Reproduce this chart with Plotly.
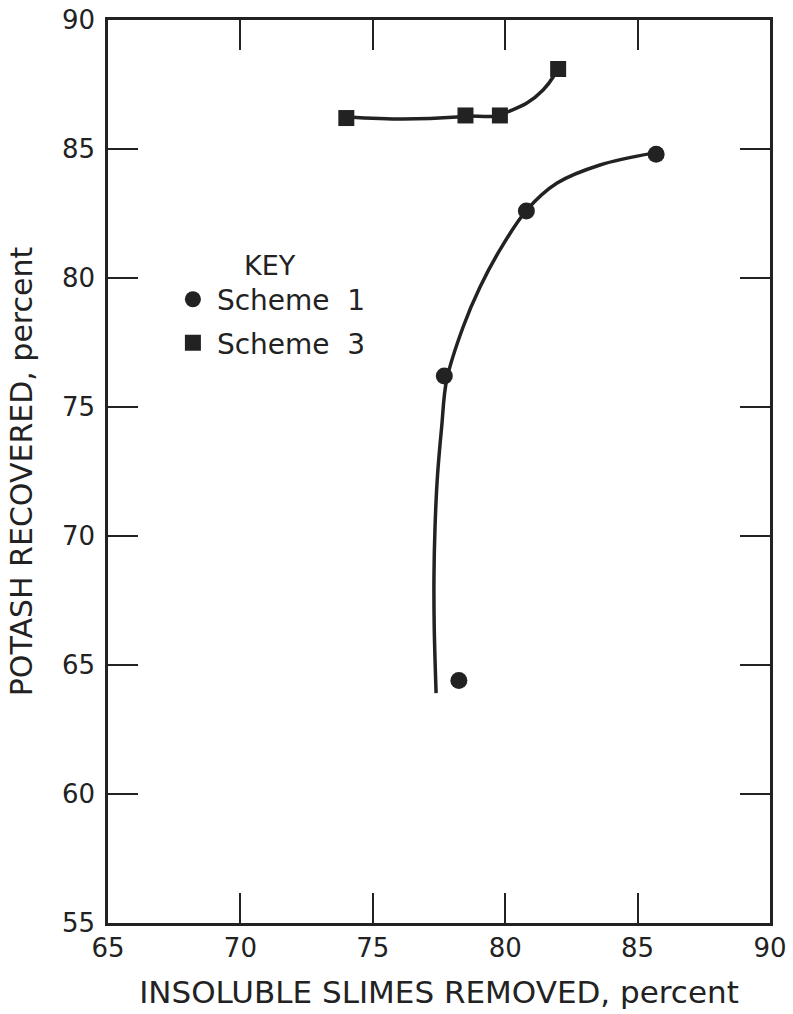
import plotly.graph_objects as go

# Data points
s1_x = [85.7, 80.8, 77.7, 78.25]
s1_y = [84.8, 82.6, 76.2, 64.4]
s3_x = [74.0, 78.5, 79.8, 82.0]
s3_y = [86.2, 86.3, 86.3, 88.1]

# Hand-drawn fitted curves
c1_x = [85.58, 83.58, 81.96, 80.82, 79.80, 79.05, 78.41, 77.79, 77.60, 77.44, 77.35, 77.31, 77.32, 77.39]
c1_y = [84.84, 84.38, 83.68, 82.64, 81.09, 79.65, 78.10, 76.05, 74.22, 72.29, 70.35, 68.41, 66.47, 63.91]
c3_x = [74.03, 76.14, 78.18, 78.52, 79.77, 80.07, 80.82, 81.43, 81.81, 81.96]
c3_y = [86.24, 86.16, 86.24, 86.28, 86.28, 86.43, 86.78, 87.29, 87.79, 88.14]

yticks = [55, 60, 65, 70, 75, 80, 85, 90]
xticks = [65, 70, 75, 80, 85, 90]

INK = "#222222"
FONT = "DejaVu Sans"

fig = go.Figure()
fig.add_trace(go.Scatter(x=c1_x, y=c1_y, mode="lines", line=dict(color=INK, width=3.5, shape="spline"),
                         showlegend=False, hoverinfo="skip"))
fig.add_trace(go.Scatter(x=c3_x, y=c3_y, mode="lines", line=dict(color=INK, width=3.5, shape="spline"),
                         showlegend=False, hoverinfo="skip"))
fig.add_trace(go.Scatter(x=s1_x, y=s1_y, mode="markers", name="Scheme\u00a0\u00a01", legendgroup="a",
                         marker=dict(symbol="circle", size=17, color=INK)))
fig.add_trace(go.Scatter(x=s3_x, y=s3_y, mode="markers", name="Scheme\u00a0\u00a03", legendgroup="b",
                         marker=dict(symbol="square", size=16, color=INK)))

axis_common = dict(showline=True, linewidth=2.5, linecolor=INK, mirror="ticks", ticks="inside",
                   ticklen=30, tickwidth=1.5, tickcolor=INK, showgrid=False, zeroline=False,
                   automargin=False, ticklabeloverflow="allow",
                   tickfont=dict(family=FONT, size=26, color=INK))

fig.update_xaxes(range=[65, 90], tickvals=xticks, ticktext=[str(v) for v in xticks],
                 title=dict(text="INSOLUBLE SLIMES REMOVED, percent", font=dict(family=FONT, size=31, color=INK),
                            standoff=20),
                 ticklabelstandoff=0, **axis_common)
fig.update_yaxes(range=[55, 90], tickvals=yticks, ticktext=[str(v) for v in yticks],
                 title=dict(text="POTASH RECOVERED, percent", font=dict(family=FONT, size=30, color=INK),
                            standoff=21),
                 ticklabelstandoff=5, **axis_common)

fig.update_layout(
    width=793, height=1014,
    margin=dict(l=108, r=23, t=20, b=91),
    paper_bgcolor="white", plot_bgcolor="white",
    font=dict(family=FONT, color=INK),
    legend=dict(x=0.092, y=0.757, xanchor="left", yanchor="top",
                title=dict(text="KEY", side="top center", font=dict(family=FONT, size=27, color=INK)),
                font=dict(family=FONT, size=28, color=INK), bgcolor="rgba(0,0,0,0)",
                itemsizing="trace", traceorder="grouped", tracegroupgap=4, itemwidth=38),
)

fig.write_html("out.html", config={"displayModeBar": False},
               post_script="document.body.style.margin='0';")
